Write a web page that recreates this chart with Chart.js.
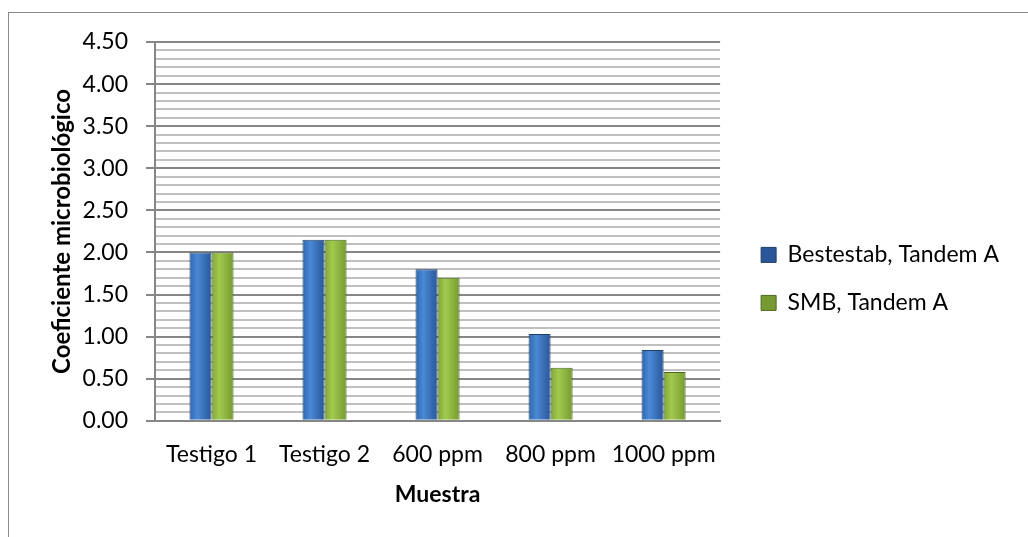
<!DOCTYPE html>
<html>
<head>
<meta charset="utf-8">
<script src="https://cdn.jsdelivr.net/npm/chart.js@4.4.1/dist/chart.umd.min.js"></script>
<style>
  html, body { margin: 0; padding: 0; background: #fff; overflow: hidden; }
  #frame { position: absolute; left: 8px; top: 12px; width: 1100px; height: 600px;
           border-left: 1px solid #8a8a8a; border-top: 1px solid #8a8a8a; }
  #wrap { position: absolute; left: 0; top: 0; width: 1028px; height: 537px; }
</style>
</head>
<body>
<div id="frame"></div>
<div id="wrap"><canvas id="chart"></canvas></div>
<script>
const categories = ["Testigo 1", "Testigo 2", "600 ppm", "800 ppm", "1000 ppm"];
const seriesNames = ["Bestestab, Tandem A", "SMB, Tandem A"];
const bestestab = [2.00, 2.15, 1.80, 1.03, 0.84];
const smb = [2.00, 2.15, 1.70, 0.63, 0.58];
const yMin = 0, yMax = 4.5, yMinorStep = 0.1, yMajorStep = 0.5;

const font = "Lato, 'Open Sans', sans-serif";
const groupShare = 0.39;

function isMajor(v) {
    return Math.round(v * 10) % Math.round(yMajorStep * 10) === 0;
}

// left-light / right-dark shading across each bar
function barFill(stops) {
    return function(c) {
        const xs = c.chart.scales.x;
        if (!xs || c.dataIndex === undefined || !xs.width) return stops[1];
        const w = xs.width / categories.length * groupShare / 2;
        const cx = xs.getPixelForValue(c.dataIndex) + (c.datasetIndex === 0 ? -w / 2 : w / 2);
        const g = c.chart.ctx.createLinearGradient(cx - w / 2, 0, cx + w / 2, 0);
        g.addColorStop(0, stops[0]);
        g.addColorStop(0.35, stops[1]);
        g.addColorStop(1, stops[2]);
        return g;
    };
}

const ctx = document.getElementById("chart").getContext("2d");

new Chart(ctx, {
    type: "bar",
    data: {
        labels: categories,
        datasets: [
            {
                label: seriesNames[0],
                data: bestestab,
                backgroundColor: barFill(["#2f67ad", "#4a89d5", "#29579a"]),
                borderColor: "#1f3f66",
                borderWidth: 1,
                categoryPercentage: groupShare,
                barPercentage: 1.0
            },
            {
                label: seriesNames[1],
                data: smb,
                backgroundColor: barFill(["#7fa43a", "#a2ca4e", "#769a31"]),
                borderColor: "#4d6920",
                borderWidth: 1,
                categoryPercentage: groupShare,
                barPercentage: 1.0
            }
        ]
    },
    options: {
        responsive: true,
        maintainAspectRatio: false,
        animation: false,
        layout: { padding: { top: 42, left: 44, bottom: 25, right: 19 } },
        plugins: {
            tooltip: { enabled: false },
            legend: {
                position: "right",
                align: "start",
                maxWidth: 400,
                title: { display: true, text: "", padding: { top: 162, bottom: 0 } },
                labels: {
                    boxWidth: 15,
                    boxHeight: 15,
                    padding: 25,
                    color: "#000",
                    font: { family: font, size: 23 }
                }
            }
        },
        scales: {
            x: {
                grid: { display: false, drawTicks: false },
                border: { display: true, color: "#868686", width: 2 },
                ticks: { color: "#000", padding: 20, font: { family: font, size: 23 } },
                title: {
                    display: true,
                    text: "Muestra",
                    color: "#000",
                    padding: { top: -8, bottom: 4 },
                    font: { family: font, size: 23, weight: "bold" }
                }
            },
            y: {
                min: yMin,
                max: yMax,
                ticks: {
                    stepSize: yMinorStep,
                    autoSkip: false,
                    padding: 18,
                    color: "#000",
                    font: { family: font, size: 23 },
                    callback: function(v) { return isMajor(v) ? v.toFixed(2) : ""; }
                },
                grid: {
                    color: function(c) { return isMajor(c.tick.value) ? "#868686" : "#c0c0c0"; },
                    lineWidth: 2,
                    tickLength: 9,
                    tickColor: function(c) { return isMajor(c.tick.value) ? "#868686" : "rgba(0,0,0,0)"; }
                },
                border: { display: true, color: "#868686", width: 2 },
                title: {
                    display: true,
                    text: "Coeficiente microbiológico",
                    color: "#000",
                    font: { family: font, size: 24, weight: "bold" }
                },
                afterFit: function(scale) { scale.width = 111; }
            },
            spacer: {
                position: "right",
                display: true,
                grid: { display: false, drawTicks: false },
                border: { display: false },
                ticks: { display: false },
                afterFit: function(scale) { scale.width = 16; }
            }
        }
    }
});
</script>
</body>
</html>
